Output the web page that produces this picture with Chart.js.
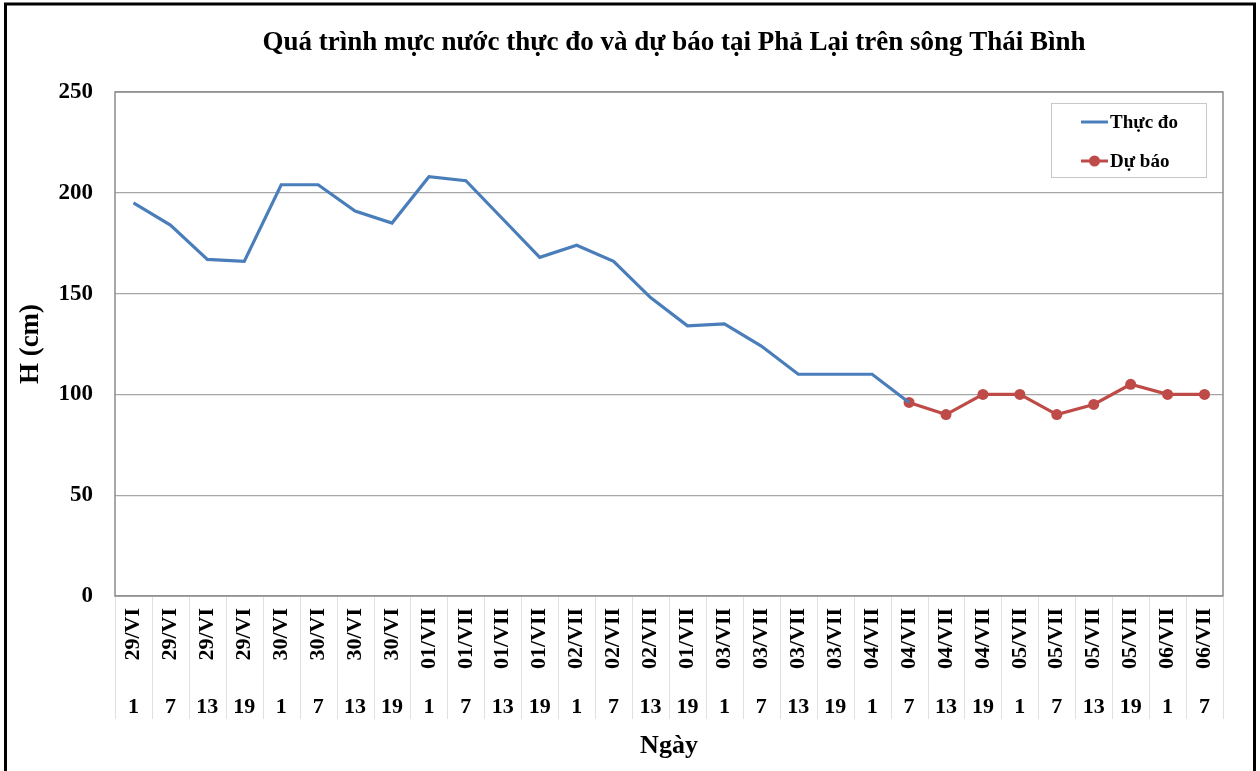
<!DOCTYPE html>
<html>
<head>
<meta charset="utf-8">
<script src="https://cdn.jsdelivr.net/npm/chart.js@4/dist/chart.umd.min.js"></script>
<style>
  html, body { margin: 0; padding: 0; background: #fff; }
  #wrap { width: 1260px; height: 771px; }
</style>
</head>
<body>
<div id="wrap"><canvas id="grafico" width="1260" height="771"></canvas></div>
<script>
// Datos
var titulo = 'Quá trình mực nước thực đo và dự báo tại Phả Lại trên sông Thái Bình';
var ngay = ['29/VI','29/VI','29/VI','29/VI','30/VI','30/VI','30/VI','30/VI',
            '01/VII','01/VII','01/VII','01/VII','02/VII','02/VII','02/VII','01/VII',
            '03/VII','03/VII','03/VII','03/VII','04/VII','04/VII','04/VII','04/VII',
            '05/VII','05/VII','05/VII','05/VII','06/VII','06/VII'];
var gio = ['1','7','13','19','1','7','13','19','1','7','13','19','1','7','13','19',
           '1','7','13','19','1','7','13','19','1','7','13','19','1','7'];
var thucDo = [195,184,167,166,204,204,191,185,208,206,187,168,174,166,148,134,
              135,124,110,110,110,96,null,null,null,null,null,null,null,null];
var duBao = [null,null,null,null,null,null,null,null,null,null,null,null,null,null,null,null,
             null,null,null,null,null,96,90,100,100,90,95,105,100,100];
var yTicks = [0,50,100,150,200,250];

var serif = "'Liberation Serif', 'Times New Roman', serif";
Chart.defaults.font.family = serif;
Chart.defaults.font.weight = 'bold';
Chart.defaults.color = '#000';

var azul = '#4a7ebb';
var rojo = '#be4b48';

// Título, marco exterior, borde del área, separadores de categorías y leyenda
var extras = {
    id: 'extras',
    beforeDatasetsDraw: function(chart) {
        var c = chart.ctx, a = chart.chartArea;
        var xs = chart.scales.x, hs = chart.scales.x2;
        c.save();
        c.strokeStyle = '#8c8c8c';
        c.lineWidth = 1.5;
        c.strokeRect(a.left, a.top, a.right - a.left, a.bottom - a.top);
        // separadores bajo el eje
        c.strokeStyle = '#e0e0e0';
        c.lineWidth = 1;
        var n = ngay.length;
        for (var i = 0; i <= n; i++) {
            var xb;
            if (i === 0) xb = a.left;
            else if (i === n) xb = a.right;
            else xb = (xs.getPixelForValue(i - 1) + xs.getPixelForValue(i)) / 2;
            c.beginPath();
            c.moveTo(Math.round(xb) + 0.5, a.bottom + 1);
            c.lineTo(Math.round(xb) + 0.5, hs.top + 31);
            c.stroke();
        }
        c.restore();
    },
    afterDraw: function(chart) {
        var c = chart.ctx, a = chart.chartArea;
        c.save();
        // título
        c.fillStyle = '#000';
        c.font = 'bold 27px ' + serif;
        c.textAlign = 'center';
        c.textBaseline = 'middle';
        c.fillText(titulo, 674, 43);
        // leyenda
        c.textAlign = 'left';
        var lx = a.right - 172, ly = a.top + 11, lw = 155, lh = 74;
        c.fillStyle = '#fff';
        c.fillRect(lx, ly, lw, lh);
        c.strokeStyle = '#c8c8c8';
        c.lineWidth = 1;
        c.strokeRect(lx + 0.5, ly + 0.5, lw, lh);
        var items = [
            { t: 'Thực đo', col: azul, dot: false, y: ly + 19 },
            { t: 'Dự báo', col: rojo, dot: true, y: ly + 58 }
        ];
        c.font = 'bold 19px ' + serif;
        items.forEach(function(it) {
            c.strokeStyle = it.col;
            c.lineWidth = 3;
            c.beginPath();
            c.moveTo(lx + 30, it.y);
            c.lineTo(lx + 57, it.y);
            c.stroke();
            if (it.dot) {
                c.fillStyle = it.col;
                c.beginPath();
                c.arc(lx + 43.5, it.y, 5.5, 0, Math.PI * 2);
                c.fill();
            }
            c.fillStyle = '#000';
            c.fillText(it.t, lx + 59, it.y + 1);
        });
        // marco negro
        c.strokeStyle = '#000';
        c.lineWidth = 3;
        c.strokeRect(5.5, 4, 1249, 800);
        c.restore();
    }
};

var ctx = document.getElementById('grafico').getContext('2d');
var grafico = new Chart(ctx, {
    type: 'line',
    data: {
        labels: ngay,
        datasets: [{
            label: 'Thực đo',
            data: thucDo,
            borderColor: azul,
            backgroundColor: azul,
            borderWidth: 3.2,
            pointRadius: 0,
            tension: 0,
            xAxisID: 'x'
        }, {
            label: 'Dự báo',
            data: duBao,
            borderColor: rojo,
            backgroundColor: rojo,
            borderWidth: 3.2,
            pointRadius: 5.5,
            pointBackgroundColor: rojo,
            pointBorderWidth: 0,
            tension: 0,
            xAxisID: 'x'
        }]
    },
    options: {
        responsive: false,
        animation: false,
        events: [],
        layout: { padding: { left: 0, right: 37, top: 92, bottom: 0 } },
        plugins: {
            legend: { display: false },
            tooltip: { enabled: false },
            title: { display: false }
        },
        scales: {
            x: {
                type: 'category',
                position: 'bottom',
                weight: 0,
                offset: true,
                grid: { display: false, drawTicks: false },
                border: { display: false },
                ticks: {
                    autoSkip: false,
                    minRotation: 90,
                    maxRotation: 90,
                    padding: 12,
                    font: { size: 22, weight: 'bold' }
                },
                afterFit: function(s) { s.height = 92; }
            },
            x2: {
                type: 'category',
                position: 'bottom',
                weight: 1,
                labels: gio,
                offset: true,
                grid: { display: false, drawTicks: false },
                border: { display: false },
                ticks: {
                    autoSkip: false,
                    maxRotation: 0,
                    minRotation: 0,
                    padding: 6,
                    font: { size: 22, weight: 'bold' }
                },
                title: {
                    display: true,
                    text: 'Ngày',
                    font: { size: 26, weight: 'bold' },
                    padding: { top: 0, bottom: 9 }
                },
                afterFit: function(s) { s.height = 83; }
            },
            y: {
                min: 0,
                max: 250,
                afterBuildTicks: function(s) {
                    s.ticks = yTicks.map(function(v) { return { value: v }; });
                },
                grid: { color: '#a6a6a6', lineWidth: 1.2, drawTicks: false },
                border: { display: false },
                ticks: {
                    padding: 22,
                    font: { size: 23, weight: 'bold' }
                },
                title: {
                    display: true,
                    text: 'H (cm)',
                    font: { size: 27, weight: 'bold' },
                    padding: { top: 15, bottom: 0 }
                },
                afterFit: function(s) { s.width = 115; }
            }
        }
    },
    plugins: [extras]
});
</script>
</body>
</html>
